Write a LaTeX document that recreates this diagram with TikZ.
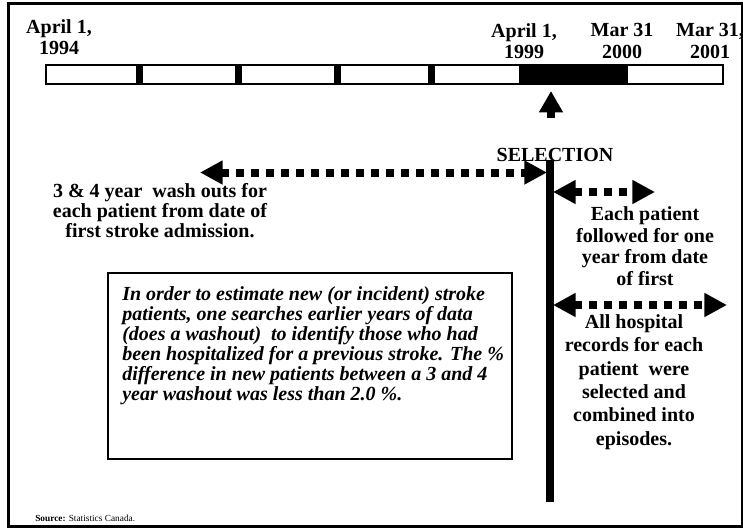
\documentclass[tikz,border=0pt]{standalone}
\usepackage{fontspec}
\setmainfont{Liberation Serif}
\usetikzlibrary{arrows.meta}
\tikzset{
  lbl/.style={font=\bfseries\fontsize{15}{16}\selectfont, align=center, inner sep=0pt},
  ital/.style={font=\bfseries\itshape\fontsize{15}{15}\selectfont, align=left, inner sep=0pt},
  dotarrow/.style={line width=6pt, dash pattern=on 6pt off 5.25pt,
    {Triangle[length=17pt,width=17pt]}-{Triangle[length=17pt,width=17pt]}},
  seg/.style={fill=white, draw=black, line width=1.1pt},
  blk/.style={fill=black, draw=black, line width=1.1pt},
}
\begin{document}
\begin{tikzpicture}[x=0.75pt,y=-0.75pt]
\useasboundingbox (0,0) rectangle (743,529);
% outer frame
\draw[line width=1.6pt] (8.5,3.5) rectangle (742,526.5);

% timeline bar
\draw[seg] (46,65) rectangle (723,84);
\fill (136,65) rectangle (143,84);
\fill (235,65) rectangle (242,84);
\fill (334,65) rectangle (341,84);
\fill (428,65) rectangle (435,84);
\draw[blk] (520,65) rectangle (627,84);

% date labels
\node[lbl] (d1994) at (59,37) {April 1,\\1994};
\node[lbl] (d1999) at (524,41) {April 1,\\1999};
\node[lbl] (d2000) at (622,41) {Mar 31\\2000};
\node[lbl] (d2001) at (710,41) {Mar 31,\\2001};

% up arrow
\coordinate (ua1) at (551,118);
\coordinate (ua2) at (551,91);
\draw[line width=6pt, -{Triangle[length=16pt,width=17pt]}] (ua1) -- (ua2);

% selection
\node[lbl] (sel) at (555,154.5) {SELECTION};
\coordinate (vtop) at (550,160);
\coordinate (vbot) at (550,502);
\draw[line width=5.5pt] (vtop) -- (vbot);

% washout arrow
\coordinate (wl) at (200,172.5);
\coordinate (wr) at (547,172.5);
\draw[dotarrow] (wl) -- (wr);
\node[lbl, font=\bfseries\fontsize{15}{15}\selectfont] (wash) at (160,211)
  {3 \& 4 year~ wash outs for\\each patient from date of\\first stroke admission.};

% follow-up arrow
\coordinate (fl) at (553,192);
\coordinate (fr) at (655,192);
\draw[dotarrow] (fl) -- (fr);
\node[lbl, font=\bfseries\fontsize{15}{16.25}\selectfont] (follow) at (645,246)
  {Each patient\\followed for one\\year from date\\of first};

% records arrow
\coordinate (rl) at (553,305);
\coordinate (rr) at (727,305);
\draw[dotarrow] (rl) -- (rr);
\node[lbl, font=\bfseries\fontsize{15}{17.5}\selectfont] (rec) at (634,382)
  {All hospital\\records for each\\patient~ were\\selected and\\combined into\\episodes.};

% note box
\node[draw, line width=1.6pt, minimum width=303pt, minimum height=139.5pt, inner sep=0pt] (box) at (310,366) {};
\node[ital, anchor=north west] (note) at (122,286)
  {In order to estimate new (or incident) stroke\\
   patients, one searches earlier years of data\\
   (does a washout)~ to identify those who had\\
   been hospitalized for a previous stroke. The \%\\
   difference in new patients between a 3 and 4\\
   year washout was less than 2.0 \%.};

% source
\node[anchor=base west, inner sep=0pt, font=\fontsize{7}{8}\selectfont] (src) at (35,521)
  {\textbf{Source:} Statistics Canada.};
\end{tikzpicture}
\end{document}
